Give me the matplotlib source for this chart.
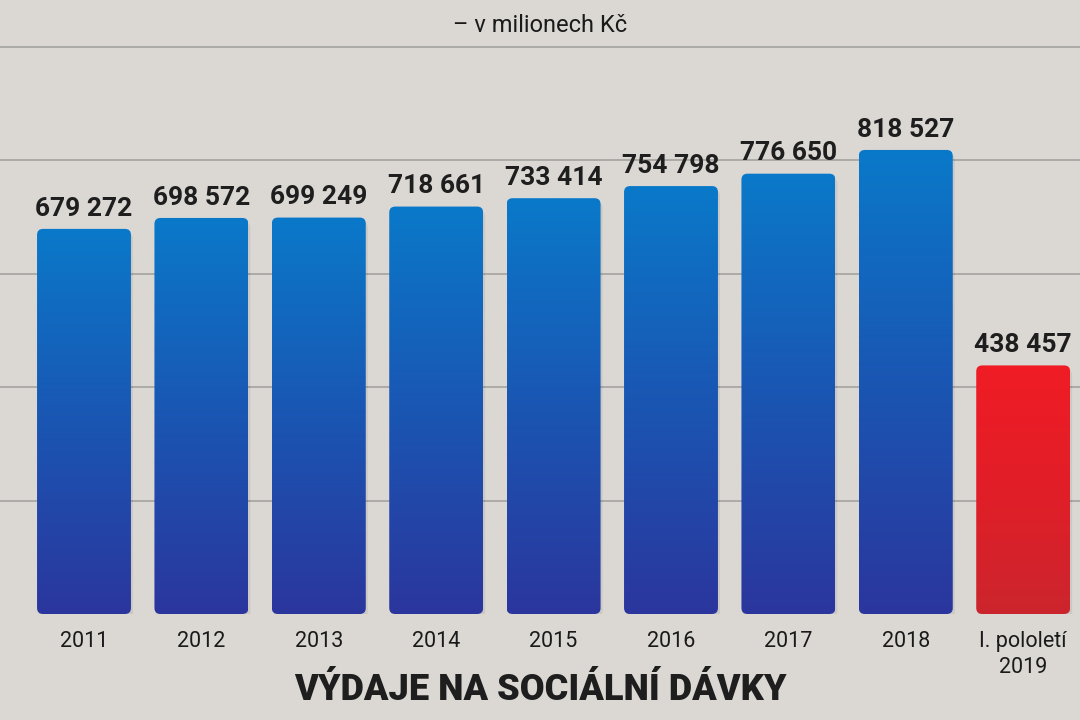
import matplotlib
matplotlib.use("Agg")
import matplotlib.pyplot as plt
import numpy as np
from matplotlib.patches import FancyBboxPatch
from matplotlib.colors import LinearSegmentedColormap

# data
kategorie = ["2011", "2012", "2013", "2014", "2015", "2016", "2017", "2018", "I. pololetí\n2019"]
hodnoty = [679272, 698572, 699249, 718661, 733414, 754798, 776650, 818527, 438457]
mrizka = [200000, 400000, 600000, 800000, 1000000]
nadpis = "VÝDAJE NA SOCIÁLNÍ DÁVKY"
podnadpis = "– v milionech Kč"

modra = LinearSegmentedColormap.from_list("modra", ["#2b369d", "#1a56b3", "#0a79c9"])
cervena = LinearSegmentedColormap.from_list("cervena", ["#cc252d", "#e11e28", "#f01c25"])

bg = "#dbd8d4"
fig = plt.figure(figsize=(10.8, 7.2), dpi=100, facecolor=bg)
ax = fig.add_axes([0, 106 / 720, 1, 614 / 720])
ax.set_facecolor(bg)

x = np.arange(len(hodnoty))
ax.set_xlim(-84 / 117.4, (1080 - 84) / 117.4)
ax.set_ylim(0, 1083000)

for g in mrizka:
    ax.axhline(g, color="#a9a7a4", lw=1.3, zorder=0)

bars = ax.bar(x, hodnoty, width=0.8, color="none", zorder=1)

# aspect for round corners in pixels
px_x = 1080 / (ax.get_xlim()[1] - ax.get_xlim()[0])
px_y = 614 / (ax.get_ylim()[1] - ax.get_ylim()[0])
aspect = px_x / px_y
r = 6 / px_x

grad = np.linspace(0, 1, 256).reshape(-1, 1)
for i, b in enumerate(bars):
    bx, by, bw, bh = b.get_x(), b.get_y(), b.get_width(), b.get_height()
    # faint shadow
    sh = FancyBboxPatch((bx + 2 / px_x, by - 4 / px_y), bw, bh,
                        boxstyle=f"round,pad=0,rounding_size={r}",
                        mutation_aspect=aspect, fc="#000000", ec="none",
                        alpha=0.07, zorder=1)
    ax.add_patch(sh)
    p = FancyBboxPatch((bx, by), bw, bh, boxstyle=f"round,pad=0,rounding_size={r}",
                       mutation_aspect=aspect, fc="none", ec="none", zorder=2)
    ax.add_patch(p)
    cmap = cervena if i == len(hodnoty) - 1 else modra
    im = ax.imshow(grad, cmap=cmap, extent=[bx, bx + bw, by, by + bh], origin="lower",
                   aspect="auto", zorder=2, interpolation="bilinear")
    im.set_clip_path(p)
    ax.annotate(f"{hodnoty[i]:,}".replace(",", " "), (x[i], hodnoty[i]),
                xytext=(0, 6), textcoords="offset points", ha="center", va="bottom",
                fontsize=19, fontweight="bold", family="Roboto", color="#1e1e1e")

ax.set_xlim(-84 / 117.4, (1080 - 84) / 117.4)
ax.set_ylim(0, 1083000)

for s in ax.spines.values():
    s.set_visible(False)
ax.set_yticks([])
ax.set_xticks(x)
ax.set_xticklabels(kategorie, fontsize=15.5, family="Roboto", fontweight="normal",
                   color="#1a1a1a", linespacing=1.35)
ax.tick_params(axis="x", length=0, pad=12)

fig.text(0.5, 30 / 720, nadpis, ha="center", va="center", fontsize=26,
         fontweight="black", family="Roboto", color="#1e1e1e")
fig.text(0.5, 1 - 25 / 720, podnadpis, ha="center", va="center", fontsize=17,
         family="Roboto", fontweight="normal", color="#1a1a1a")

fig.savefig("out.png", dpi=100, facecolor=bg)
